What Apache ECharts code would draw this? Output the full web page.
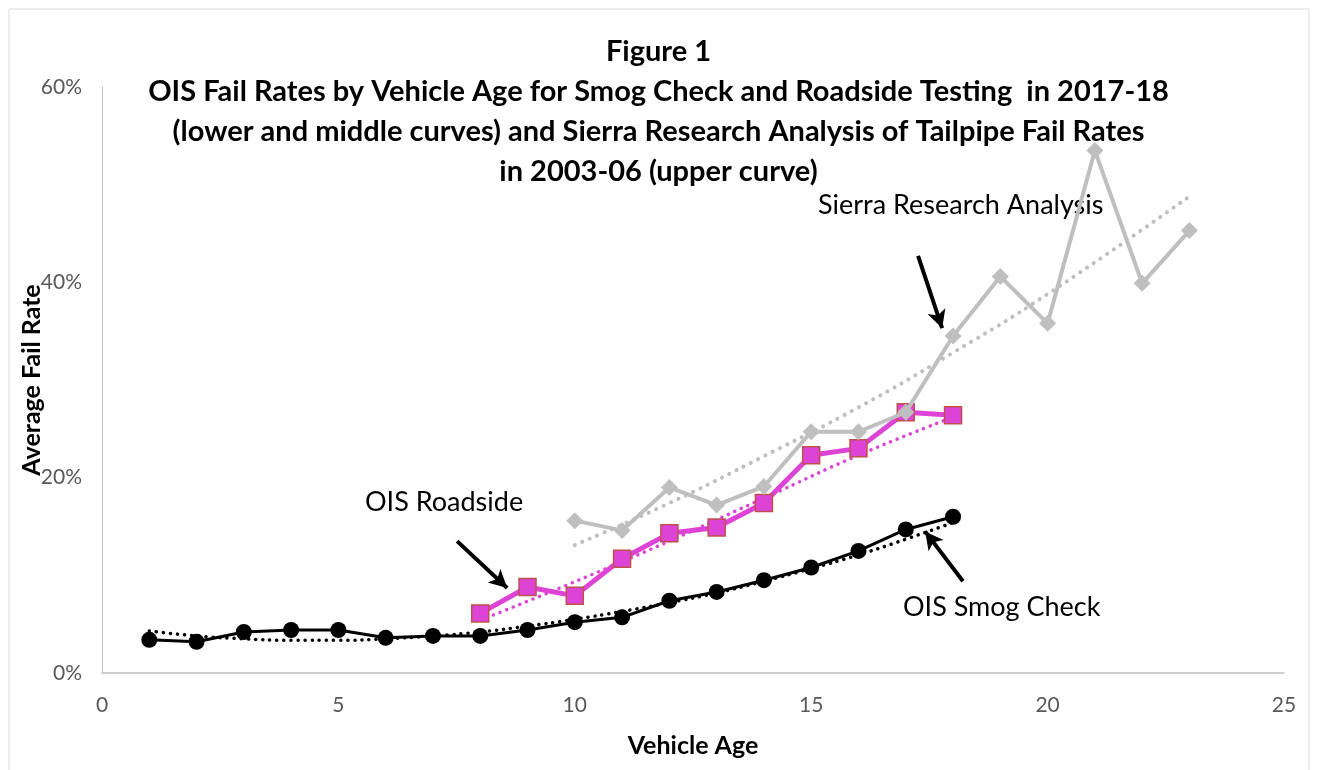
<!DOCTYPE html>
<html>
<head>
<meta charset="utf-8">
<script src="https://cdn.jsdelivr.net/npm/echarts@6/dist/echarts.min.js"></script>
<style>
  html, body { margin: 0; padding: 0; background: #fff; }
  #main { width: 1317px; height: 770px; }
</style>
</head>
<body>
<div id="main"></div>
<script>
// vehicle ages
var smogAges = [1, 2, 3, 4, 5, 6, 7, 8, 9, 10, 11, 12, 13, 14, 15, 16, 17, 18];
var roadAges = [8, 9, 10, 11, 12, 13, 14, 15, 16, 17, 18];
var sierraAges = [10, 11, 12, 13, 14, 15, 16, 17, 18, 19, 20, 21, 22, 23];

// fail rates (%)
var smogRates = [3.4, 3.2, 4.2, 4.4, 4.4, 3.6, 3.8, 3.8, 4.4, 5.2, 5.7, 7.4, 8.3, 9.5, 10.8, 12.5, 14.7, 16.0];
var roadRates = [6.1, 8.8, 7.9, 11.7, 14.3, 14.9, 17.4, 22.3, 23.0, 26.7, 26.4];
var sierraRates = [15.6, 14.6, 19.0, 17.2, 19.1, 24.7, 24.7, 26.7, 34.5, 40.6, 35.8, 53.5, 39.9, 45.3];

// trend lines
var smogTrendAges = [1, 2, 3, 4, 5, 6, 7, 8, 9, 10, 11, 12, 13, 14, 15, 16, 17, 18];
var smogTrend = [4.3, 3.8, 3.5, 3.35, 3.35, 3.5, 3.8, 4.2, 4.8, 5.5, 6.3, 7.2, 8.2, 9.4, 10.7, 12.1, 13.7, 15.4];
var roadTrendAges = [8, 11, 14, 16, 18];
var roadTrend = [5.4, 11.4, 17.9, 22.3, 26.2];
var sierraTrendAges = [10, 12, 14, 16, 18, 20, 23];
var sierraTrend = [13.1, 17.4, 22.2, 27.2, 32.8, 38.8, 48.8];

var xTicks = [0, 5, 10, 15, 20, 25];
var yTicks = [0, 20, 40, 60];

function pairs(xs, ys) {
    var out = [];
    for (var i = 0; i < xs.length; i++) out.push([xs[i], ys[i]]);
    return out;
}

var FONT = 'Lato';

var myChart = echarts.init(document.getElementById('main'));
var option = {
    animation: false,
    backgroundColor: '#fff',
    title: {
        text: 'Figure 1\nOIS Fail Rates by Vehicle Age for Smog Check and Roadside Testing  in 2017-18\n(lower and middle curves) and Sierra Research Analysis of Tailpipe Fail Rates\nin 2003-06 (upper curve)',
        left: 'center',
        top: 27,
        textStyle: {
            fontFamily: FONT,
            fontWeight: 'bold',
            fontSize: 29,
            lineHeight: 40,
            color: '#000'
        }
    },
    graphic: [
        { type: 'rect', shape: { x: 9, y: 9, width: 1300, height: 770 }, style: { fill: 'none', stroke: '#d9d9d9', lineWidth: 1 }, silent: true, z: -10 },
        { type: 'text', left: 818, top: 192, style: { text: 'Sierra Research Analysis', font: '27px ' + FONT, fill: '#000' } },
        { type: 'text', left: 365, top: 489, style: { text: 'OIS Roadside', font: '27px ' + FONT, fill: '#000' } },
        { type: 'text', left: 903, top: 594, style: { text: 'OIS Smog Check', font: '27px ' + FONT, fill: '#000' } }
    ],
    grid: {
        left: 102,
        right: 33,
        top: 87,
        bottom: 97,
        outerBoundsMode: 'none'
    },
    xAxis: {
        type: 'value',
        min: 0,
        max: 25,
        interval: 5,
        name: 'Vehicle Age',
        nameLocation: 'middle',
        nameGap: 60,
        nameMoveOverlap: false,
        nameTextStyle: { fontFamily: FONT, fontWeight: 'bold', fontSize: 25, color: '#000' },
        axisLine: { show: true, lineStyle: { color: '#bfbfbf', width: 1.5 } },
        axisTick: { show: false },
        splitLine: { show: false },
        axisLabel: {
            fontFamily: FONT, fontSize: 21, color: '#595959', margin: 22,
            formatter: function (v) { return xTicks.indexOf(v) >= 0 ? String(v) : ''; }
        }
    },
    yAxis: {
        type: 'value',
        min: 0,
        max: 60,
        interval: 20,
        name: 'Average Fail Rate',
        nameLocation: 'middle',
        nameGap: 58,
        nameMoveOverlap: false,
        nameTextStyle: { fontFamily: FONT, fontWeight: 'bold', fontSize: 25, color: '#000' },
        axisLine: { show: true, lineStyle: { color: '#bfbfbf', width: 1 } },
        axisTick: { show: false },
        splitLine: { show: false },
        axisLabel: {
            fontFamily: FONT, fontSize: 21, color: '#595959', margin: 20,
            formatter: function (v) { return yTicks.indexOf(v) >= 0 ? v + '%' : ''; }
        }
    },
    series: [
        {
            name: 'OIS Roadside trend',
            type: 'line',
            data: pairs(roadTrendAges, roadTrend),
            smooth: true,
            symbol: 'none',
            lineStyle: { color: '#dd44d6', width: 3.5, type: [0.1, 7], cap: 'round' },
            z: 2
        },
        {
            name: 'Sierra trend',
            type: 'line',
            data: pairs(sierraTrendAges, sierraTrend),
            smooth: true,
            symbol: 'none',
            lineStyle: { color: '#bfbfbf', width: 4, type: [0.1, 8], cap: 'round' },
            z: 2
        },
        {
            name: 'OIS Roadside',
            type: 'line',
            data: pairs(roadAges, roadRates),
            symbol: 'rect',
            symbolSize: 17,
            lineStyle: { color: '#dd44d6', width: 5 },
            itemStyle: { color: '#dd44d6', borderColor: '#c0504d', borderWidth: 1.5 },
            z: 3
        },
        {
            name: 'Sierra Research Analysis',
            type: 'line',
            data: pairs(sierraAges, sierraRates),
            symbol: 'diamond',
            symbolSize: 17,
            lineStyle: { color: '#bfbfbf', width: 4 },
            itemStyle: { color: '#bfbfbf' },
            z: 4,
            markLine: {
                silent: true,
                symbol: ['none', 'arrow'],
                symbolSize: [14, 18],
                label: { show: false },
                lineStyle: { color: '#000', width: 4, type: 'solid' },
                data: [
                    [{ coord: [17.26, 42.7] }, { coord: [17.77, 35.3] }],
                    [{ coord: [7.51, 13.5] }, { coord: [8.57, 8.7] }],
                    [{ coord: [18.21, 9.4] }, { coord: [17.41, 14.5] }]
                ]
            }
        },
        {
            name: 'OIS Smog Check',
            type: 'line',
            data: pairs(smogAges, smogRates),
            symbol: 'circle',
            symbolSize: 16,
            lineStyle: { color: '#000', width: 3 },
            itemStyle: { color: '#000' },
            z: 5
        },
        {
            name: 'OIS Smog Check trend',
            type: 'line',
            data: pairs(smogTrendAges, smogTrend),
            smooth: true,
            symbol: 'none',
            lineStyle: { color: '#000', width: 3.5, type: [0.1, 7], cap: 'round' },
            z: 6
        }
    ]
};
if (option && typeof option === "object") {
    myChart.setOption(option, true);
}
window.addEventListener('resize', function () {
    myChart.resize();
});
</script>
</body>
</html>
